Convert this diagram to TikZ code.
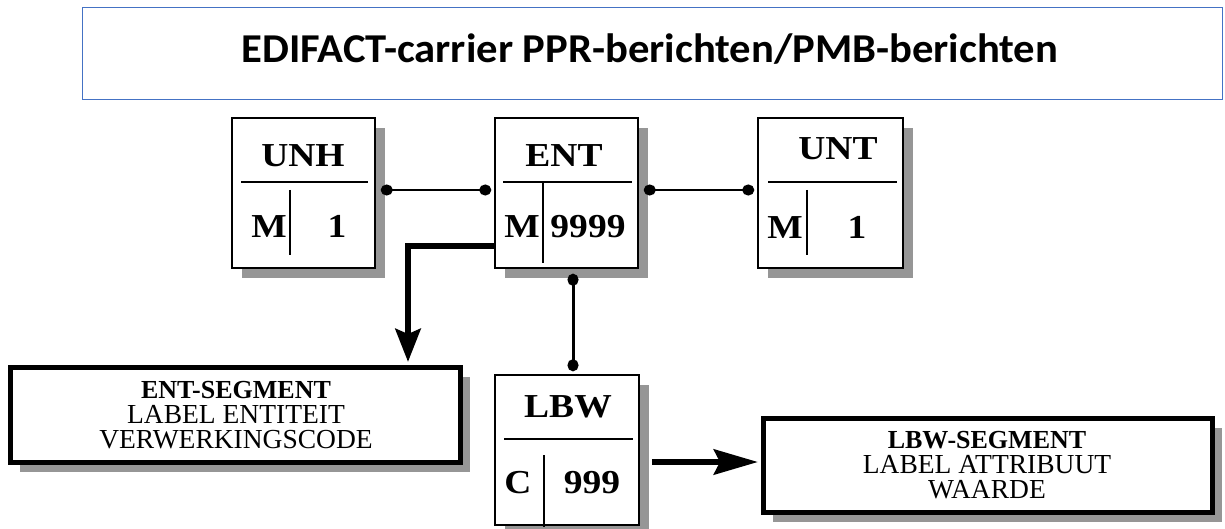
\documentclass[tikz,border=0pt]{standalone}
\usepackage{fontspec}
\usepackage{graphicx}
\setmainfont{Liberation Serif}
\newfontfamily\titlefont{Carlito}
\usetikzlibrary{arrows.meta,calc,shadows}
\definecolor{shadowgray}{RGB}{150,150,150}
\definecolor{titleblue}{RGB}{68,114,196}
\newcommand\hs[1]{\scalebox{1.12}[1]{#1}}
\begin{document}
\begin{tikzpicture}[x=1pt,y=-1pt,
  cell/.style={draw,line width=1.5pt,fill=white,inner sep=0pt,
    minimum width=143pt,minimum height=150pt,
    drop shadow={shadow xshift=10pt,shadow yshift=-10pt,fill=shadowgray,opacity=1}},
  segbox/.style={draw,line width=5pt,fill=white,inner sep=0pt,
    minimum width=450pt,minimum height=95pt,
    drop shadow={shadow xshift=10pt,shadow yshift=-10pt,fill=shadowgray,opacity=1}},
  celltext/.style={inner sep=0pt,anchor=base,font=\fontsize{33.5}{36}\selectfont\bfseries},
  segtext/.style={inner sep=0pt,anchor=base,font=\fontsize{27.5}{28}\selectfont},
  segbold/.style={segtext,font=\fontsize{26}{28}\selectfont\bfseries},
  divider/.style={line width=1.3pt},
  dotline/.style={line width=2pt,{Circle[length=12pt,width=11pt]}-{Circle[length=12pt,width=11pt]}},
  thickarrow/.style={line width=6.5pt,line join=miter},
]
\useasboundingbox (0,0) rectangle (1225,529);

% title
\node[draw=titleblue,line width=1pt,minimum width=1140pt,minimum height=92pt,inner sep=0pt] (title) at (652,54) {};
\node[inner sep=0pt,anchor=base,font=\titlefont\fontsize{41}{44}\selectfont\bfseries] (titletext) at (650,63)
  {\scalebox{1.04}[1]{EDIFACT-carrier PPR-berichten/PMB-berichten}};

% segment boxes
\node[cell] (unh) at (303.5,193) {};
\node[cell] (ent) at (566.5,193) {};
\node[cell,minimum width=145pt] (unt) at (830.5,193) {};
\node[cell,minimum width=144pt] (lbw) at (567,450) {};

\node[segbox] (entseg) at (235,414.5) {};
\node[segbox,minimum width=449pt,minimum height=94pt] (lbwseg) at (987.5,465) {};

% dividers
\draw[divider] (241,182) -- (368,182);
\draw[divider] (290,190) -- (290,255);
\draw[divider] (503,182) -- (632,182);
\draw[divider] (543,182) -- (543,263);
\draw[divider] (768,182) -- (897,182);
\draw[divider] (807,190) -- (807,255);
\draw[divider] (504,439) -- (633,439);
\draw[divider] (544,455) -- (544,527);

% cell texts
\node[celltext] (unhname) at (303,167) {\hs{UNH}};
\node[celltext] (unhm) at (269,238) {\hs{M}};
\node[celltext] (unhn) at (337,238) {\hs{1}};
\node[celltext] (entname) at (564,167) {\hs{ENT}};
\node[celltext] (entm) at (522,238) {\hs{M}};
\node[celltext] (entn) at (588,238) {\hs{9999}};
\node[celltext] (untname) at (838,160) {\hs{UNT}};
\node[celltext] (untm) at (785,239) {\hs{M}};
\node[celltext] (untn) at (857,239) {\hs{1}};
\node[celltext] (lbwname) at (568,417) {\hs{LBW}};
\node[celltext] (lbwc) at (518,493) {\hs{C}};
\node[celltext] (lbwn) at (592,493) {\hs{999}};

% segment texts
\node[segbold] (entsegA) at (236,398) {ENT-SEGMENT};
\node[segtext] (entsegB) at (236,423) {LABEL ENTITEIT};
\node[segtext] (entsegC) at (236,448) {VERWERKINGSCODE};
\node[segbold] (lbwsegA) at (987,448) {LBW-SEGMENT};
\node[segtext] (lbwsegB) at (987,473) {LABEL ATTRIBUUT};
\node[segtext] (lbwsegC) at (987,498) {WAARDE};

% connectors
\draw[dotline] ($(unh.east)+(5,-3)$) -- ($(ent.west)+(-3,-3)$);
\draw[dotline] ($(ent.east)+(5,-3)$) -- ($(unt.west)+(-3,-3)$);
\draw[dotline,line width=3pt] ($(ent.south)+(6.5,5)$) -- ($(lbw.north)+(6,-3)$);

\draw[thickarrow,-{Stealth[length=33pt,width=25pt,inset=5pt]}]
  ($(ent.west)+(0,53)$) -| ($(entseg.north)+(173,-2.5)$);
\draw[thickarrow,-{Stealth[length=44pt,width=25pt,inset=6pt]}]
  ($(lbw.east)+(12,12)$) -- ($(lbwseg.west)+(-2.5,-3)$);
\end{tikzpicture}
\end{document}
